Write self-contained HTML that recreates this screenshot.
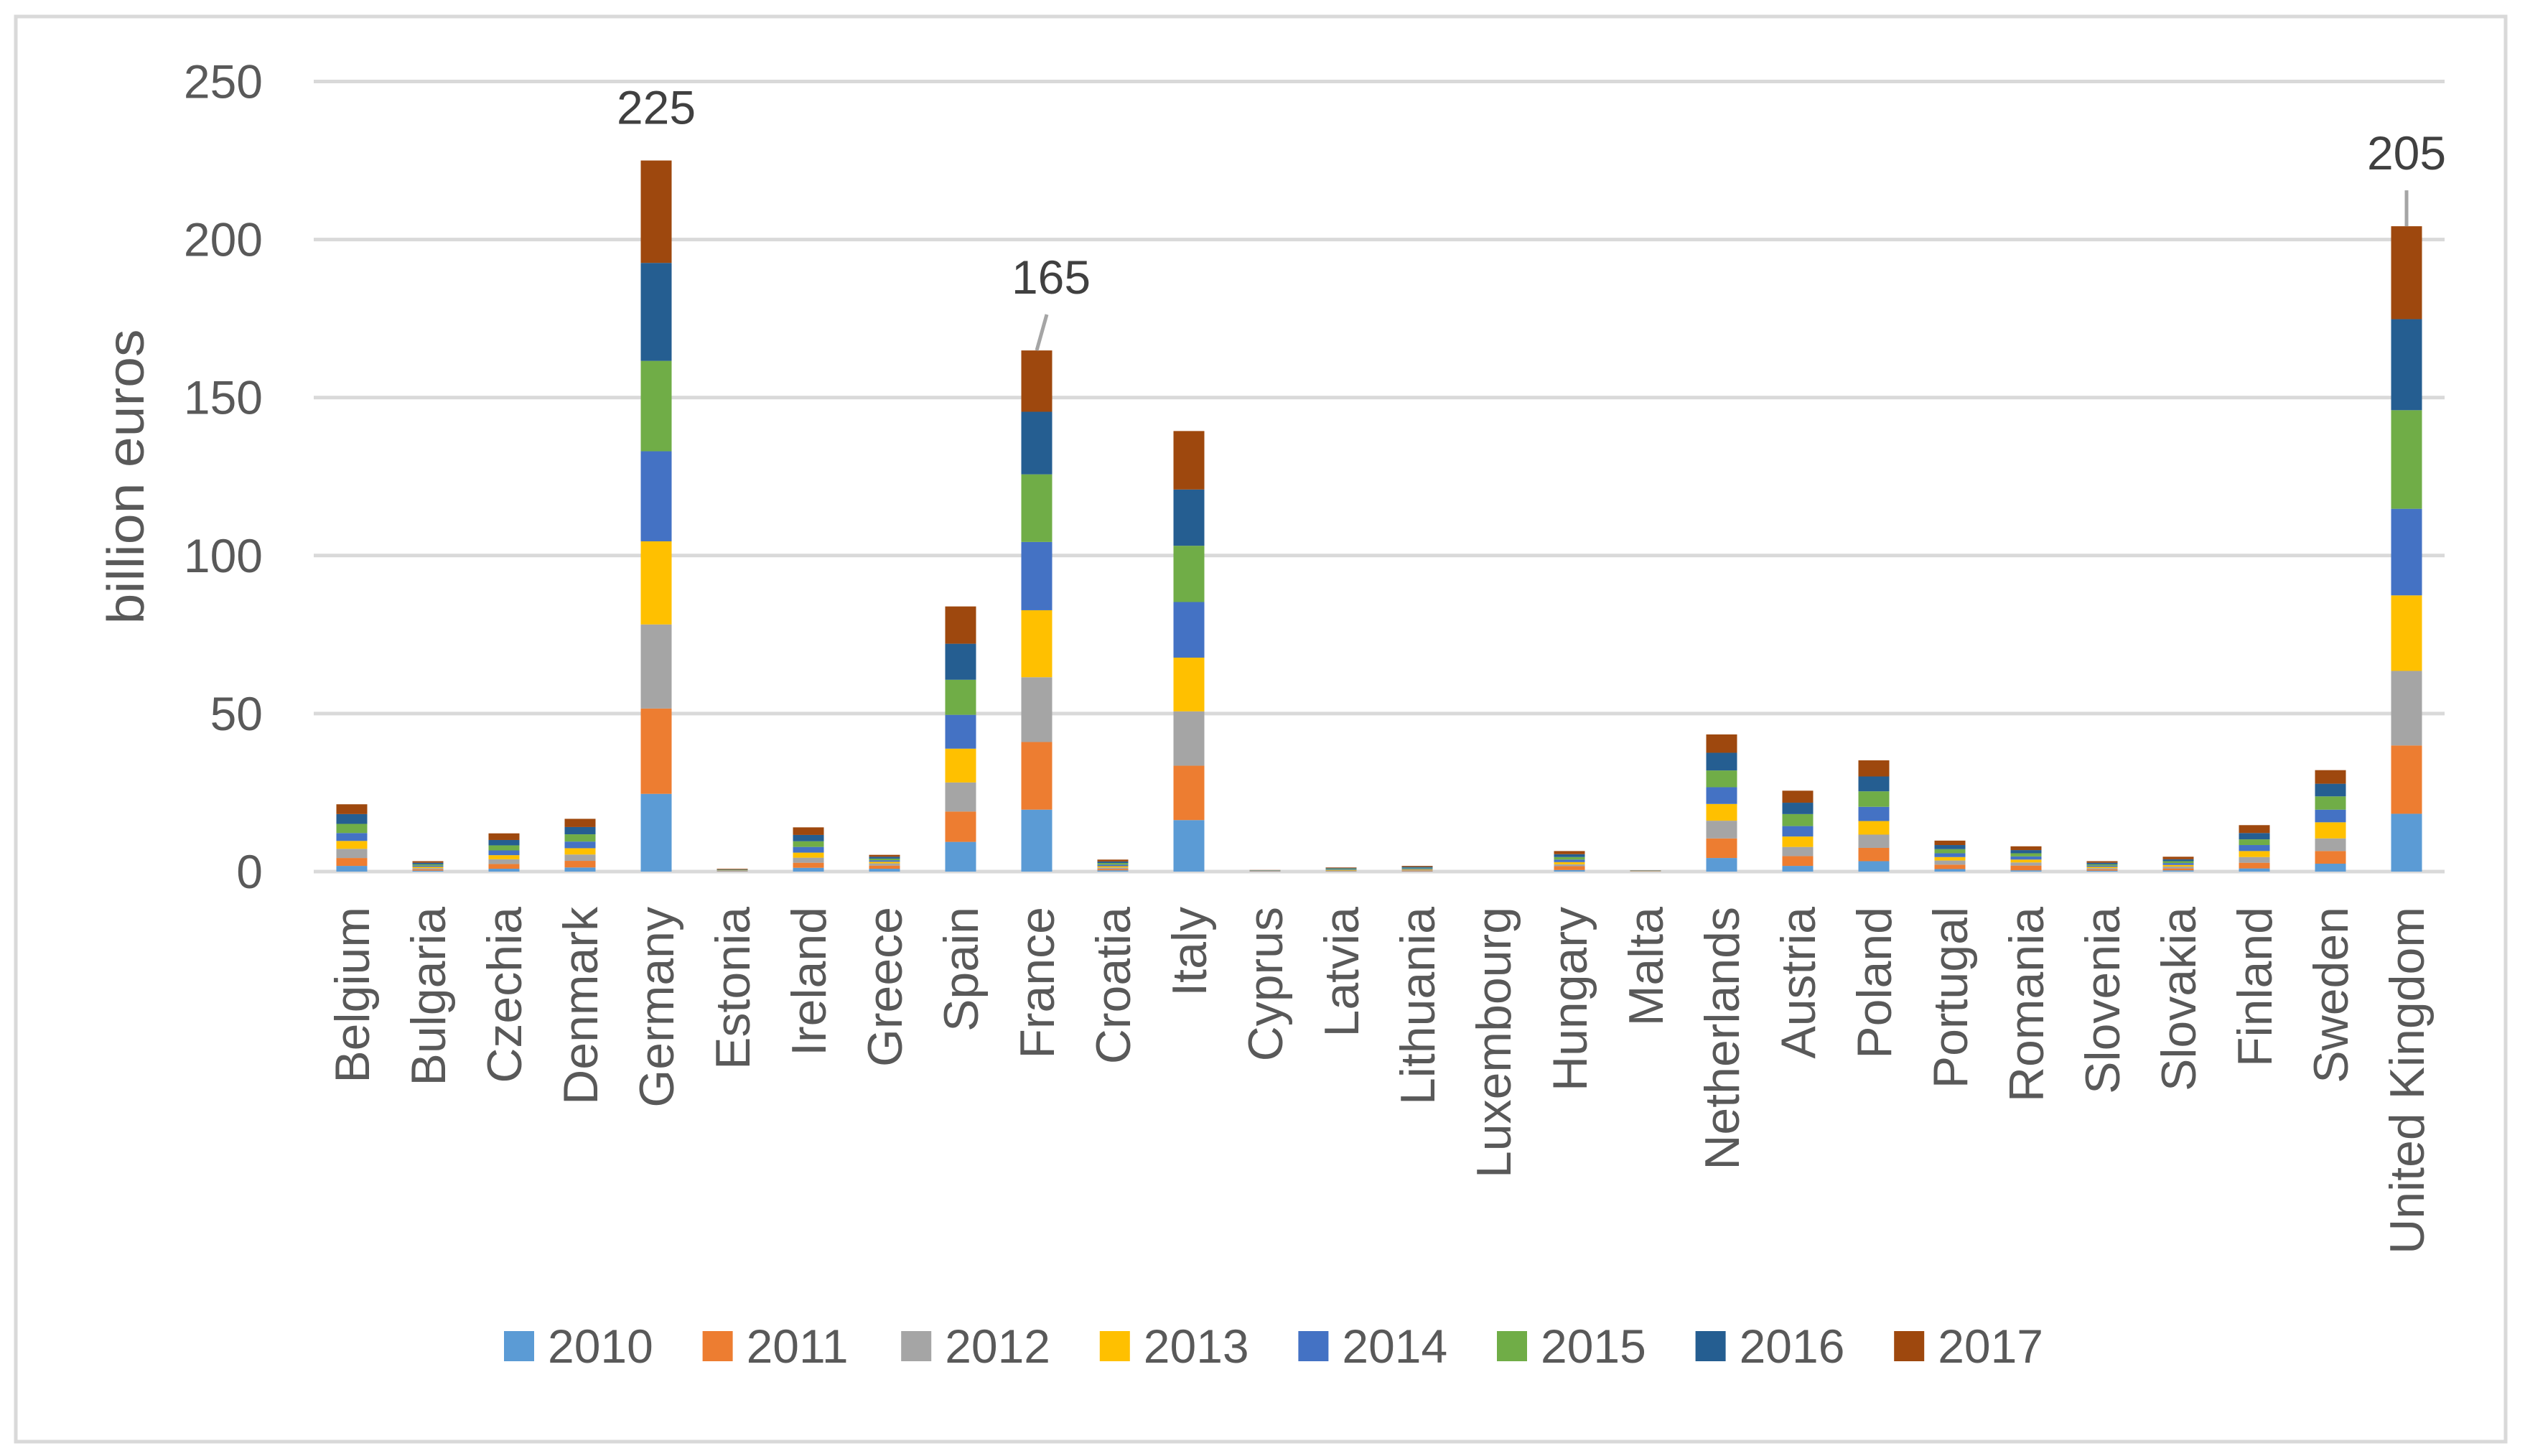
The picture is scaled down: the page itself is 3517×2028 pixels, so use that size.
<!DOCTYPE html>
<html><head><meta charset="utf-8"><style>
html,body{margin:0;padding:0;background:#fff;}
svg{display:block;font-family:"Liberation Sans",sans-serif;}
</style></head><body>
<svg id="chart" width="3517" height="2028" viewBox="0 0 3517 2028" xmlns="http://www.w3.org/2000/svg">
<rect x="22" y="23" width="3468" height="1985" fill="#fff" stroke="#d9d9d9" stroke-width="5"/>
<g id="grid"></g>
<g id="bars"></g>
<g id="yticks"></g>
<g id="xlabels"></g>
<g id="annots"></g>
<g id="legend"></g>
<text x="0" y="0" transform="translate(200,664) rotate(-90)" text-anchor="middle" font-size="72" fill="#595959" textLength="411" lengthAdjust="spacingAndGlyphs">billion euros</text>
</svg>
<script>
const categories=["Belgium","Bulgaria","Czechia","Denmark","Germany","Estonia","Ireland","Greece","Spain","France","Croatia","Italy","Cyprus","Latvia","Lithuania","Luxembourg","Hungary","Malta","Netherlands","Austria","Poland","Portugal","Romania","Slovenia","Slovakia","Finland","Sweden","United Kingdom"];
const years=["2010","2011","2012","2013","2014","2015","2016","2017"];
const v2010=[1.8,0.3,0.9,1.3,24.6,0.1,1.2,0.9,9.4,19.6,0.4,16.3,0.1,0.1,0.1,0,0.5,0.05,4.3,1.8,3.3,0.8,0.4,0.3,0.4,1.0,2.5,18.3];
const v2011=[2.5,0.4,1.5,2.1,27.0,0.1,1.6,1.0,9.6,21.4,0.4,17.2,0.1,0.1,0.2,0,1.2,0.05,6.2,3.1,4.2,1.4,1.5,0.4,0.6,1.8,4.0,21.6];
const v2012=[2.9,0.4,1.5,2.0,26.6,0.1,1.6,0.7,9.2,20.5,0.5,17.2,0.05,0.1,0.2,0,0.6,0.05,5.6,2.9,4.2,1.3,1.0,0.4,0.6,1.8,4.0,23.6];
const v2013=[2.5,0.4,1.3,2.0,26.3,0.1,1.6,0.5,10.7,21.2,0.4,17.0,0.05,0.2,0.2,0,0.7,0.05,5.3,3.3,4.3,1.1,0.9,0.4,0.5,1.9,5.1,23.9];
const v2014=[2.5,0.4,1.5,2.1,28.5,0.1,1.8,0.5,10.7,21.6,0.5,17.6,0.05,0.2,0.3,0,0.8,0.05,5.3,3.3,4.5,1.2,1.0,0.4,0.6,1.9,4.0,27.4];
const v2015=[2.9,0.4,1.6,2.3,28.6,0.1,1.8,0.5,11.1,21.4,0.5,17.8,0.05,0.2,0.2,0,0.8,0.05,5.3,3.8,4.9,1.3,1.0,0.4,0.6,1.8,4.2,31.2];
const v2016=[3.1,0.5,1.7,2.3,31.0,0.1,2.0,0.6,11.4,19.8,0.5,17.8,0.05,0.2,0.3,0,0.9,0.05,5.6,3.6,4.7,1.3,1.0,0.5,0.6,2.0,4.0,28.8];
const v2017=[3.1,0.5,2.1,2.6,32.4,0.2,2.4,0.6,11.8,19.4,0.6,18.5,0.05,0.2,0.3,0,1.0,0.05,5.8,3.8,5.1,1.4,1.2,0.5,0.8,2.5,4.3,29.4];
const yTicks=[0,50,100,150,200,250];
const annotCats=["Germany","France","United Kingdom"];
const annotLabels=["225","165","205"];

const series=[v2010,v2011,v2012,v2013,v2014,v2015,v2016,v2017];
const colors=["#5b9bd5","#ed7d31","#a5a5a5","#ffc000","#4472c4","#70ad47","#255e91","#9e480e"];
const NS="http://www.w3.org/2000/svg";
const PL=437,PR=3405,Y0=1214,YMAX=250,PXU=4.402;
const band=(PR-PL)/categories.length;
const xC=i=>PL+band*(i+0.5);
const yS=v=>Y0-v*PXU;
const BW=43;
function mk(tag,attrs,parent){const e=document.createElementNS(NS,tag);for(const k in attrs)e.setAttribute(k,attrs[k]);parent.appendChild(e);return e;}
const grid=document.getElementById('grid'),bars=document.getElementById('bars'),yt=document.getElementById('yticks'),xl=document.getElementById('xlabels'),an=document.getElementById('annots'),lg=document.getElementById('legend');
yTicks.forEach(t=>{
  const l=mk('line',{x1:PL,x2:PR,y1:yS(t),y2:yS(t),stroke:'#d9d9d9','stroke-width':5},grid);
  
  
  const tx=mk('text',{x:366,y:yS(t)+23,'text-anchor':'end','font-size':66,fill:'#595959'},yt);
  tx.textContent=t;
  
  
});
const totals=categories.map(()=>0);
categories.forEach((c,i)=>{
  let acc=0;
  series.forEach((s,k)=>{
    const v=s[i];if(v<=0)return;
    const r=mk('rect',{x:xC(i)-BW/2,y:yS(acc+v),width:BW,height:v*PXU,fill:colors[k]},bars);
    
    
    acc+=v;
  });
  totals[i]=acc;
  const t=mk('text',{x:0,y:0,transform:`translate(${xC(i)+24},1263) rotate(-90)`,'text-anchor':'end','font-size':68,fill:'#595959'},xl);
  t.textContent=c;
  
  
});
annotCats.forEach((c,j)=>{
  const i=categories.indexOf(c);const top=yS(totals[i]);
  let tx,ty;
  if(j===0){tx=xC(i);ty=top-74;}
  else if(j===1){tx=xC(i)+20;ty=top-102;mk('line',{x1:xC(i),y1:top,x2:xC(i)+14,y2:top-50,stroke:'#a5a5a5','stroke-width':5},an);}
  else{tx=xC(i);ty=top-102;mk('line',{x1:xC(i),y1:top,x2:xC(i),y2:top-50,stroke:'#a5a5a5','stroke-width':5},an);}
  const t=mk('text',{x:tx,y:ty+23,'text-anchor':'middle','font-size':66,fill:'#404040'},an);
  t.textContent=annotLabels[j];
  
  
});
years.forEach((y,k)=>{
  const x=702+276.6*k;
  const r=mk('rect',{x:x,y:1854,width:42,height:42,fill:colors[k]},lg);
  
  
  const t=mk('text',{x:x+61,y:1898,'font-size':66,fill:'#595959'},lg);
  t.textContent=y;
  
  
});
</script>
</body></html>
